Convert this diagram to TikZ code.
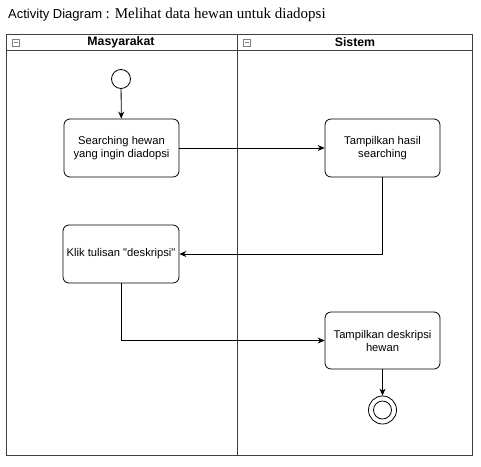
\documentclass[tikz,border=0pt]{standalone}
\usepackage{fontspec}
\setmainfont{Liberation Sans}
\newfontfamily\serifx{Liberation Serif}
\newfontfamily\plainsans{Liberation Sans}
\usetikzlibrary{arrows.meta}
\tikzset{
  act/.style={draw, rounded corners=6pt, line width=0.8pt, align=center, font=\plainsans\fontsize{11.2}{13}\selectfont, inner sep=0pt},
  flow/.style={-{Stealth[length=7pt,width=6pt]}, line width=0.8pt},
  lane/.style={draw=black!75, line width=0.9pt},
  hdr/.style={font=\bfseries\fontsize{12.3}{14}\selectfont},
  icon/.style={draw=black!50, line width=0.5pt}
}
\begin{document}
\begin{tikzpicture}[x=1pt,y=-1pt]
\useasboundingbox (0,0) rectangle (481,466);
\fill[white] (0,0) rectangle (481,466);
% title
\node[anchor=base west, inner sep=0pt] (title) at (8,18.5) {\fontsize{13}{15}\selectfont Activity Diagram \serifx\fontsize{15}{17}\selectfont: Melihat data hewan untuk diadopsi};
% pool
\draw[lane] (6,34) rectangle (472,455);
\draw[lane] (6,50) -- (472,50);
\draw[lane] (237,34) -- (237,455);
\node[hdr] (h1) at (121,42) {Masyarakat};
\node[hdr] (h2) at (355,42) {Sistem};
\draw[icon] (12,39) rectangle (19,46); \draw[icon] (13.5,42.5) -- (17.5,42.5);
\draw[icon] (243,39) rectangle (250,46); \draw[icon] (244.5,42.5) -- (248.5,42.5);
% nodes
\node[draw, circle, line width=0.8pt, minimum size=19pt, inner sep=0pt] (start) at (121,79) {};
\node[act, minimum width=115pt, minimum height=58pt] (a1) at (121.5,148) {Searching hewan\\yang ingin diadopsi};
\node[act, minimum width=115pt, minimum height=58pt] (a2) at (382.5,148) {Tampilkan hasil\\searching};
\node[act, minimum width=116pt, minimum height=58pt] (a3) at (121,254) {Klik tulisan "deskripsi"};
\node[act, minimum width=115pt, minimum height=57pt] (a4) at (382.5,340.5) {Tampilkan deskripsi\\hewan};
\node[draw, circle, line width=0.8pt, minimum size=28pt, inner sep=0pt] (end) at (382.5,410) {};
\node[draw, circle, line width=0.8pt, minimum size=18pt, inner sep=0pt] (endin) at (382.5,410) {};
% flows
\draw[flow] (start) -- (a1);
\draw[flow] (a1) -- (a2);
\draw[flow] (a2.south) |- (a3.east);
\draw[flow] (a3.south) |- (a4.west);
\draw[flow] (a4) -- (end);
\end{tikzpicture}
\end{document}
